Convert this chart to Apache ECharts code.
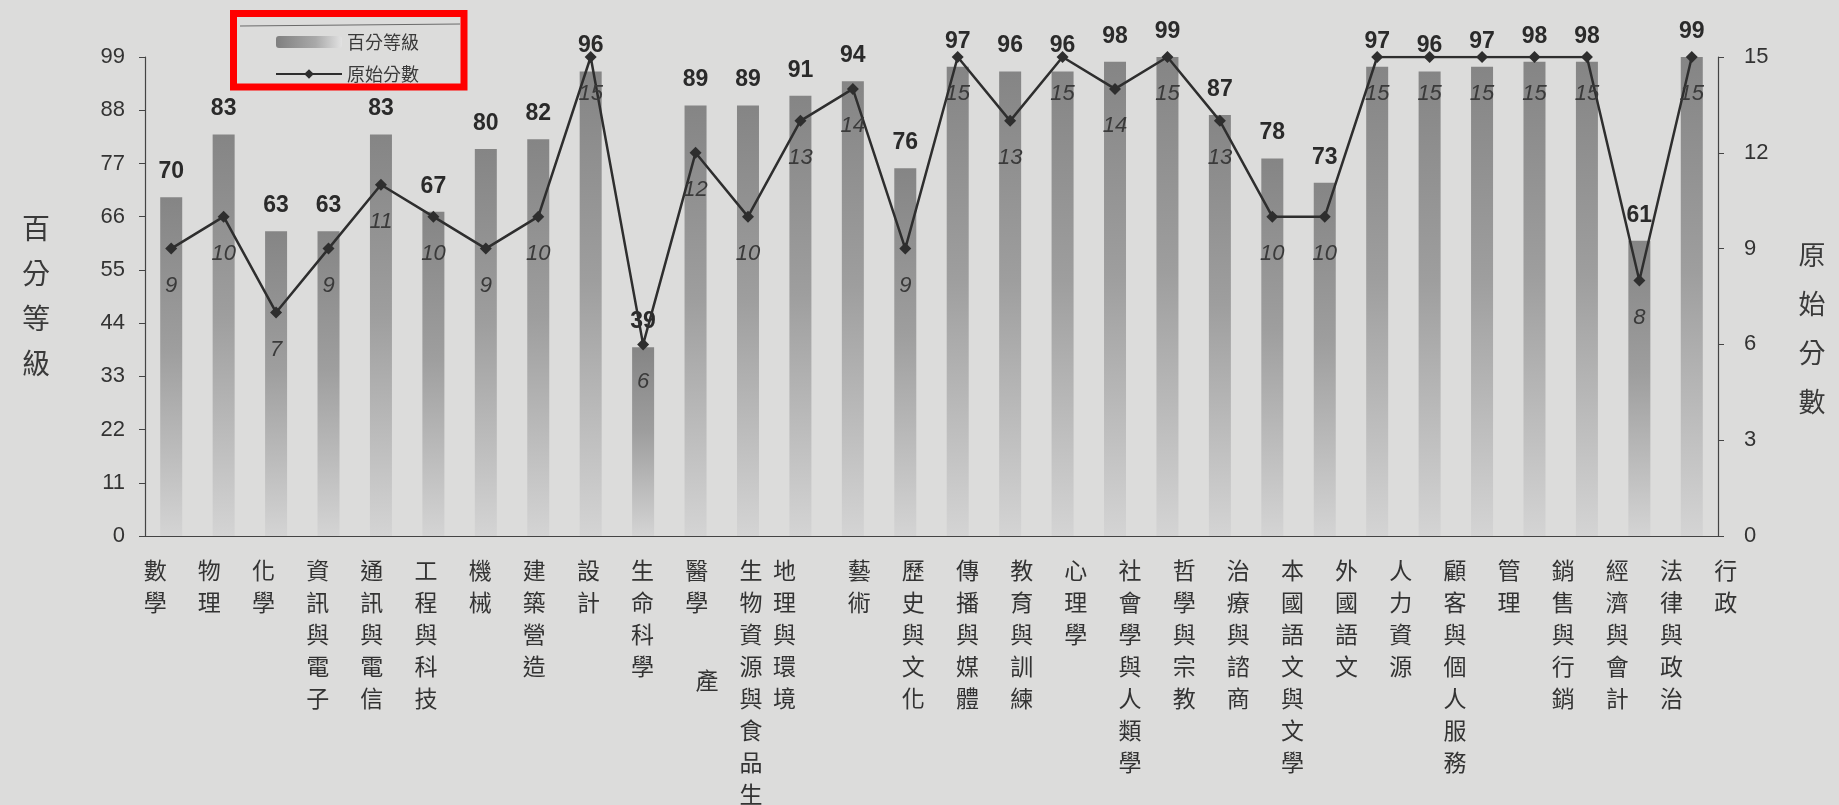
<!DOCTYPE html>
<html>
<head>
<meta charset="utf-8">
<script src="https://cdn.jsdelivr.net/npm/echarts@6/dist/echarts.min.js"></script>
<style>
  html, body { margin: 0; padding: 0; background: #dcdcdb; }
  #chart { width: 1839px; height: 805px; }
</style>
</head>
<body>
<div id="chart"></div>
<script>
const categories = ['數學','物理','化學','資訊與電子','通訊與電信','工程與科技','機械','建築營造','設計','生命科學','醫學','生物資源與食品生產','地理與環境','藝術','歷史與文化','傳播與媒體','教育與訓練','心理學','社會學與人類學','哲學與宗教','治療與諮商','本國語文與文學','外國語文','人力資源','顧客與個人服務','管理','銷售與行銷','經濟與會計','法律與政治','行政'];
const percentile = [70,83,63,63,83,67,80,82,96,39,89,89,91,94,76,97,96,96,98,99,87,78,73,97,96,97,98,98,61,99];
const rawScore = [9,10,7,9,11,10,9,10,15,6,12,10,13,14,9,15,13,15,14,15,13,10,10,15,15,15,15,15,8,15];
const leftAxis = { min: 0, max: 99, interval: 11 };
const rightAxis = { min: 0, max: 15, interval: 3 };
const seriesNames = ['百分等級', '原始分數'];
const leftTitle = '百分等級';
const rightTitle = '原始分數';

const CJK = '"Noto Sans CJK TC", "Noto Sans CJK SC", sans-serif';
const NUM = '"Liberation Sans", Arial, sans-serif';
const wrapped = 11; // the long label that wraps its last character

// slight perspective skew of the photographed label row
function labelShift(k) {
  if (k === wrapped + 1) return -16;
  return -16 + 1.72 * k;
}
const xData = categories.map((c, k) => {
  const s = labelShift(k);
  return { value: c, textStyle: { padding: s < 0 ? [0, -2 * s, 0, 0] : [0, 0, 0, 2 * s] } };
});

const chart = echarts.init(document.getElementById('chart'));
const barGrad = new echarts.graphic.LinearGradient(0, 0, 0, 1, [
  { offset: 0, color: '#858585' },
  { offset: 0.45, color: '#9e9e9e' },
  { offset: 1, color: '#d4d4d4' }
]);
const legendGrad = new echarts.graphic.LinearGradient(0, 0, 1, 0, [
  { offset: 0, color: '#7f7f7f' },
  { offset: 0.6, color: '#a9a9a9' },
  { offset: 1, color: '#e2e2e2' }
]);

function vertical(t) { return t.split('').join('\n'); }

chart.setOption({
  backgroundColor: '#dcdcdb',
  animation: false,
  grid: { left: 145, right: 121, top: 57, bottom: 269, containLabel: false, outerBoundsMode: 'none' },
  legend: {
    orient: 'vertical', left: 270, top: 28, itemWidth: 66, itemHeight: 12, itemGap: 14,
    textStyle: { fontFamily: CJK, fontSize: 18, color: '#3a3a3a' },
    data: [{ name: seriesNames[0], itemStyle: { color: legendGrad } }, { name: seriesNames[1] }]
  },
  graphic: [
    { id: 'legendLine', type: 'line', shape: { x1: 240, y1: 26, x2: 460, y2: 24 }, style: { stroke: '#6a6a6a', lineWidth: 1 }, z: 10 },
    { id: 'redBox', type: 'rect', shape: { x: 233.5, y: 13.5, width: 230.5, height: 73.5 }, style: { fill: 'none', stroke: '#ff0000', lineWidth: 7 }, z: 20 },
    { id: 'leftTitle', type: 'text', x: 36, y: 296,
      style: { text: vertical(leftTitle), fontFamily: CJK, fontSize: 28, lineHeight: 45, fill: '#3a3a3a', align: 'center', verticalAlign: 'middle' } },
    { id: 'rightTitle', type: 'text', x: 1812, y: 328,
      style: { text: vertical(rightTitle), fontFamily: CJK, fontSize: 27, lineHeight: 49, fill: '#3a3a3a', align: 'center', verticalAlign: 'middle' } }
  ],
  xAxis: {
    type: 'category',
    data: xData,
    boundaryGap: true,
    axisLine: { lineStyle: { color: '#444', width: 1.2 } },
    axisTick: { inside: true, length: 6, lineStyle: { color: '#444' } },
    axisLabel: {
      interval: 0, margin: 18, fontFamily: CJK, fontSize: 23, lineHeight: 32, color: '#333',
      formatter: (v, i) => {
        const chars = v.split('');
        if (i === wrapped) chars.pop();
        return chars.join('\n');
      }
    }
  },
  yAxis: [
    {
      type: 'value', min: leftAxis.min, max: leftAxis.max, interval: leftAxis.interval,
      axisLine: { show: true, lineStyle: { color: '#444', width: 1.2 } },
      axisTick: { show: true, length: 6, lineStyle: { color: '#444' } },
      splitLine: { show: false },
      axisLabel: { margin: 20, fontFamily: NUM, fontSize: 22, color: '#333' }
    },
    {
      type: 'value', min: rightAxis.min, max: rightAxis.max, interval: rightAxis.interval,
      axisLine: { show: true, lineStyle: { color: '#444', width: 1.2 } },
      axisTick: { show: true, length: 6, lineStyle: { color: '#444' } },
      splitLine: { show: false },
      axisLabel: { margin: 26, fontFamily: NUM, fontSize: 22, color: '#333' }
    }
  ],
  series: [
    {
      name: seriesNames[0], type: 'bar', data: percentile, barWidth: 22, yAxisIndex: 0,
      itemStyle: { color: barGrad },
      label: { show: true, position: 'top', distance: 14, fontFamily: NUM, fontWeight: 'bold', fontSize: 23, color: '#2a2a2a' },
      z: 2
    },
    {
      name: seriesNames[1], type: 'line', data: rawScore, yAxisIndex: 1,
      symbol: 'diamond', symbolSize: 12,
      lineStyle: { color: '#2e2e2e', width: 2.5 },
      itemStyle: { color: '#2e2e2e' },
      label: { show: true, position: 'bottom', distance: 20, fontFamily: NUM, fontStyle: 'italic', fontSize: 22, color: '#3a3a3a' },
      z: 3
    }
  ]
});

// the wrapped last character of the long category label
const cx = chart.convertToPixel({ xAxisIndex: 0 }, categories[wrapped]);
const by = chart.convertToPixel({ yAxisIndex: 0 }, 0);
const last = categories[wrapped].slice(-1);
chart.setOption({
  graphic: [{
    id: 'wrapChar', type: 'text', x: cx + labelShift(wrapped) - 44, y: by + 144,
    style: { text: last, fontFamily: CJK, fontSize: 23, fill: '#333', align: 'center', verticalAlign: 'middle' }
  }]
});
</script>
</body>
</html>
